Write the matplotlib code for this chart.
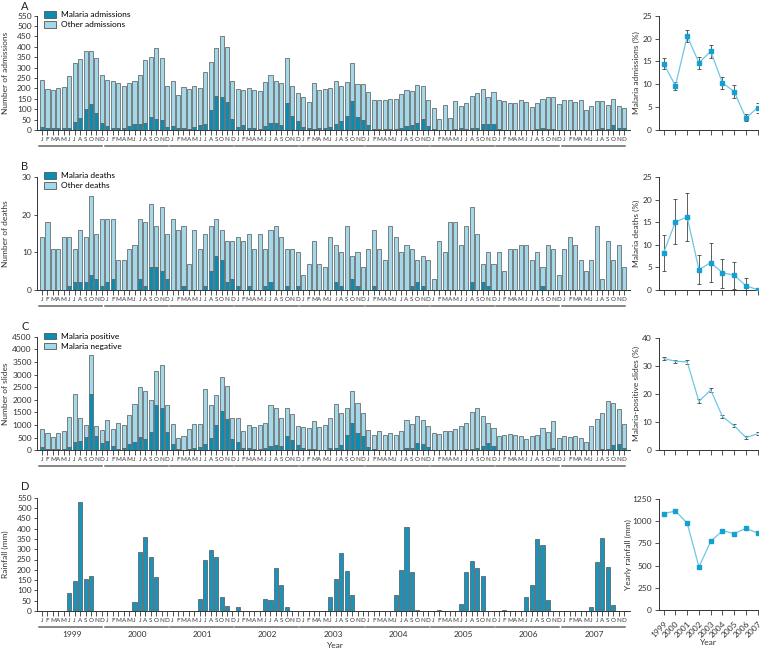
import numpy as np
import matplotlib
matplotlib.use("Agg")
import matplotlib.pyplot as plt
from matplotlib.patches import Patch
from matplotlib.transforms import blended_transform_factory

plt.rcParams['font.family'] = ['Lato', 'DejaVu Sans']

# ---- data -------------------------------------------------------------
months = list("JFMAMJJASOND")
years = ["1999", "2000", "2001", "2002", "2003", "2004", "2005", "2006", "2007"]

# A: admissions per month (total and malaria)
adm_total = [
    240, 195, 192, 200, 207, 258, 320, 340, 380, 380, 347, 265,
    240, 235, 225, 213, 225, 237, 266, 335, 352, 395, 345, 210,
    237, 168, 207, 197, 213, 202, 278, 328, 395, 453, 400, 237,
    195, 192, 200, 192, 187, 230, 265, 235, 225, 347, 212, 180,
    157, 135, 225, 193, 197, 200, 237, 210, 230, 322, 221, 221,
    182, 145, 145, 145, 148, 148, 174, 193, 189, 216, 210, 142,
    105, 52, 121, 56, 139, 116, 129, 163, 177, 195, 158, 182,
    144, 139, 129, 129, 142, 134, 110, 129, 150, 158, 158, 124,
    145, 145, 134, 145, 97, 116, 140, 140, 119, 150, 114, 108,
]
adm_malaria = [
    15, 8, 8, 8, 10, 12, 38, 58, 100, 125, 80, 33,
    18, 12, 8, 12, 18, 27, 30, 33, 62, 52, 47, 15,
    18, 8, 8, 5, 13, 22, 28, 95, 163, 157, 137, 52,
    15, 22, 12, 10, 5, 18, 33, 33, 22, 130, 68, 42,
    15, 8, 5, 12, 8, 15, 27, 43, 68, 140, 61, 48,
    25, 3, 3, 3, 3, 3, 8, 20, 25, 35, 55, 20,
    5, 2, 2, 2, 5, 8, 5, 8, 10, 30, 28, 30,
    3, 2, 2, 2, 2, 2, 2, 5, 10, 5, 3, 2,
    2, 2, 2, 2, 2, 2, 3, 12, 3, 22, 10, 8,
]

# B: deaths per month
death_total = [
    14, 18, 11, 11, 14, 14, 11, 16, 14, 25, 15, 19,
    19, 19, 8, 8, 11, 12, 19, 18, 23, 17, 22, 15,
    19, 16, 17, 7, 16, 11, 15, 17, 19, 16, 13, 13,
    14, 13, 15, 11, 15, 11, 16, 17, 14, 11, 11, 10,
    4, 7, 13, 7, 6, 14, 12, 10, 17, 9, 10, 6,
    11, 16, 11, 8, 17, 14, 10, 12, 11, 8, 9, 8,
    3, 13, 10, 18, 18, 12, 17, 22, 15, 7, 10, 7,
    10, 5, 11, 11, 12, 12, 8, 10, 6, 12, 11, 4,
    11, 14, 12, 8, 5, 8, 17, 3, 13, 8, 12, 6,
]
death_malaria = [
    0, 0, 0, 0, 0, 1, 2, 2, 2, 4, 3, 1,
    2, 3, 0, 0, 0, 0, 3, 1, 6, 6, 5, 3,
    0, 0, 1, 0, 0, 0, 1, 5, 9, 8, 2, 3,
    1, 0, 1, 0, 0, 1, 2, 0, 0, 1, 0, 1,
    0, 0, 0, 0, 0, 0, 2, 1, 0, 3, 1, 0,
    0, 1, 0, 0, 0, 0, 0, 0, 1, 2, 1, 0,
    0, 0, 0, 0, 0, 0, 0, 2, 0, 2, 1, 0,
    0, 0, 0, 0, 0, 0, 0, 0, 1, 0, 0, 0,
    0, 0, 0, 0, 0, 0, 0, 0, 0, 0, 0, 0,
]

# C: slides per month
slide_total = [
    835, 700, 510, 690, 760, 1300, 2220, 1280, 1000, 3780, 950, 800,
    1200, 850, 1080, 1020, 1400, 1830, 2500, 2330, 1990, 3150, 3360, 1780,
    1050, 500, 560, 830, 1040, 1050, 2420, 1780, 2180, 2920, 2530, 1280,
    1280, 760, 990, 930, 1000, 1080, 1780, 1660, 1280, 1680, 1430, 950,
    920, 900, 1160, 935, 990, 1270, 1820, 1490, 1660, 2350, 1890, 1465,
    790, 610, 750, 610, 670, 610, 750, 1200, 1030, 1350, 1200, 950,
    670, 660, 750, 750, 845, 950, 1080, 1500, 1660, 1350, 1070, 880,
    570, 600, 630, 620, 570, 440, 550, 620, 870, 730, 1175, 475,
    570, 530, 550, 490, 320, 950, 1230, 1470, 1950, 1860, 1640, 1030,
]
slide_positive = [
    150, 70, 50, 40, 50, 120, 330, 380, 530, 2220, 560, 300,
    380, 170, 50, 80, 230, 340, 520, 450, 720, 1780, 1680, 720,
    250, 40, 30, 50, 90, 130, 230, 490, 1010, 1560, 1240, 450,
    330, 80, 90, 50, 60, 80, 160, 210, 160, 570, 400, 210,
    100, 40, 40, 30, 30, 100, 80, 210, 610, 1070, 670, 570,
    130, 50, 30, 20, 20, 20, 30, 80, 80, 280, 260, 130,
    30, 20, 20, 20, 20, 30, 40, 60, 100, 180, 290, 180,
    30, 20, 20, 15, 15, 10, 15, 20, 30, 40, 80, 20,
    20, 15, 15, 10, 10, 20, 30, 40, 60, 210, 240, 90,
]

# D: monthly rainfall (mm)
rainfall = [
    0, 0, 0, 0, 0, 85, 145, 530, 155, 170, 0, 0,
    0, 0, 0, 0, 0, 42, 288, 357, 263, 165, 0, 0,
    0, 0, 0, 0, 0, 57, 247, 295, 262, 67, 22, 0,
    17, 0, 0, 0, 0, 60, 52, 208, 128, 17, 0, 0,
    0, 0, 0, 0, 0, 70, 154, 280, 196, 76, 0, 0,
    0, 0, 0, 0, 0, 79, 199, 406, 191, 5, 0, 0,
    0, 5, 0, 0, 0, 34, 189, 241, 207, 168, 0, 0,
    0, 5, 0, 0, 0, 66, 128, 348, 322, 52, 0, 0,
    0, 0, 0, 0, 0, 20, 236, 354, 215, 28, 0, 0,
]

# yearly summaries (right-hand panels)
adm_pct = [14.5, 9.7, 20.5, 14.7, 17.2, 10.3, 8.4, 2.6, 4.9]
adm_lo = [13.3, 8.7, 19.2, 13.3, 15.8, 9.0, 7.1, 1.9, 3.8]
adm_hi = [15.7, 10.6, 21.8, 16.0, 18.6, 11.5, 9.8, 3.4, 6.0]
death_pct = [8.3, 15.1, 16.2, 4.5, 6.1, 3.8, 3.3, 0.9, 0.1]
death_lo = [4.2, 10.1, 10.9, 1.3, 1.7, 0.5, 0.3, 0.0, 0.0]
death_hi = [12.3, 20.2, 21.6, 7.7, 10.4, 6.9, 6.2, 2.7, 0.2]
slide_pct = [32.6, 31.6, 31.4, 17.3, 21.4, 11.9, 8.6, 4.4, 5.8]
slide_lo = [32.0, 31.1, 30.7, 16.7, 20.6, 11.3, 8.1, 3.9, 5.2]
slide_hi = [33.2, 32.1, 32.1, 18.0, 22.2, 12.5, 9.1, 4.9, 6.4]
rain_year = [1085, 1115, 978, 485, 772, 893, 860, 920, 866]

# ---- style ------------------------------------------------------------
DARK = "#0a8db5"
LIGHT = "#a3d8e8"
RAIN = "#1893bb"
EDGE = "#555555"
LINE = "#6cc8e4"
MARK = "#16a0d2"
TXT = "#333333"

W, H = 762, 649
fig = plt.figure(figsize=(W / 100, H / 100), dpi=100)

LX0, LX1 = 36.6, 629.5
RX0, RX1 = 659.0, 758.3


def add_px_axes(x0, y0, x1, y1):
    return fig.add_axes([x0 / W, 1 - y1 / H, (x1 - x0) / W, (y1 - y0) / H])


def style(ax):
    for s in ("top", "right"):
        ax.spines[s].set_visible(False)
    for s in ("left", "bottom"):
        ax.spines[s].set_color(TXT)
        ax.spines[s].set_linewidth(0.7)
    ax.tick_params(colors=TXT, labelsize=6, width=0.6)


def monthly_panel(top, bottom, ymax, step, ylabel, total, malaria=None,
                  legend=None, leg_y=1.04, show_years=False):
    ax = add_px_axes(LX0, top, LX1, bottom)
    style(ax)
    x = np.arange(len(months) * len(years))
    if malaria is None:
        ax.bar(x, total, width=0.75, color=RAIN, edgecolor=EDGE, linewidth=0.5)
    else:
        mal = np.array(malaria)
        other = np.array(total) - mal
        ax.bar(x, mal, width=0.75, color=DARK, edgecolor=EDGE, linewidth=0.5)
        ax.bar(x, other, bottom=mal, width=0.75, color=LIGHT, edgecolor=EDGE, linewidth=0.5)
    ax.set_xlim(-1, 108)
    ax.set_ylim(0, ymax)
    ax.set_yticks(np.arange(0, ymax + 1, step))
    ax.tick_params(axis="y", length=2.5, pad=1)
    ax.set_xticks(x)
    ax.set_xticklabels(months * len(years), fontsize=4.5)
    ax.tick_params(axis="x", length=3.5, pad=1.5)
    ax.set_ylabel(ylabel, fontsize=6, color=TXT)
    ax.yaxis.set_label_coords((9 - LX0) / (LX1 - LX0), 0.5)

    h = bottom - top
    tr = blended_transform_factory(ax.transData, ax.transAxes)
    for k in range(len(years)):
        ax.plot([12 * k - 0.5, 12 * k + 11.1], [-15.5 / h] * 2, color="#666666",
                lw=1.1, transform=tr, clip_on=False)
        if show_years:
            ax.text(12 * k + 5.5, -23.5 / h, years[k], transform=tr, ha="center",
                    va="center", fontsize=6, color=TXT)
    if show_years:
        ax.text(54, -34.5 / h, "Year", transform=tr, ha="center", va="center",
                fontsize=6, color=TXT)
    if legend:
        handles = [Patch(facecolor=DARK, edgecolor=EDGE, linewidth=0.6, label=legend[0]),
                   Patch(facecolor=LIGHT, edgecolor=EDGE, linewidth=0.6, label=legend[1])]
        ax.legend(handles=handles, loc="upper left", bbox_to_anchor=(0.012, leg_y),
                  frameon=False, fontsize=6, handlelength=1.5, handleheight=0.8,
                  handletextpad=0.6, labelspacing=0.35, borderaxespad=0, borderpad=0)
    return ax


def yearly_panel(top, bottom, vals, ymax, step, ylabel, lo=None, hi=None,
                 marker="s", xlabels=False, label_x=639.5):
    ax = add_px_axes(RX0, top, RX1, bottom)
    style(ax)
    xs = np.arange(len(years))
    v = np.array(vals, dtype=float)
    if lo is not None:
        ax.errorbar(xs, v, yerr=[v - np.array(lo), np.array(hi) - v], fmt="none",
                    ecolor="#444444", elinewidth=0.6, capsize=1.5, capthick=0.6, zorder=2)
    ax.plot(xs, v, color=LINE, lw=0.9, marker=marker, ms=3.3, mfc=MARK, mec=MARK, zorder=3)
    ax.set_xlim(-0.4, 8.05)
    ax.set_ylim(0, ymax)
    ax.set_yticks(np.arange(0, ymax + 1, step))
    ax.set_xticks(xs)
    ax.tick_params(axis="x", length=3.5)
    ax.tick_params(axis="y", length=3, pad=2)
    if xlabels:
        ax.set_xticklabels(years, rotation=45, ha="right", va="top",
                           rotation_mode="anchor", fontsize=6)
        ax.text(0.5, -(642.5 - bottom) / (bottom - top), "Year", transform=ax.transAxes,
                ha="center", va="center", fontsize=6, color=TXT)
    else:
        ax.set_xticklabels([])
    ax.set_ylabel(ylabel, fontsize=6, color=TXT)
    ax.yaxis.set_label_coords((label_x - RX0) / (RX1 - RX0), 0.5)
    return ax


monthly_panel(15.7, 130, 550, 50, "Number of admissions", adm_total, adm_malaria,
              legend=("Malaria admissions", "Other admissions"), leg_y=1.04)
monthly_panel(177.3, 290, 30, 10, "Number of deaths", death_total, death_malaria,
              legend=("Malaria deaths", "Other deaths"), leg_y=1.045)
monthly_panel(336.7, 450.3, 4500, 500, "Number of slides", slide_total, slide_positive,
              legend=("Malaria positive", "Malaria negative"), leg_y=1.035)
monthly_panel(497.7, 611, 550, 50, "Rainfall (mm)", rainfall, show_years=True)

yearly_panel(15.7, 130, adm_pct, 25, 5, "Malaria admissions (%)", adm_lo, adm_hi)
yearly_panel(177.3, 290, death_pct, 25, 5, "Malaria deaths (%)", death_lo, death_hi)
yearly_panel(337.7, 450, slide_pct, 40, 10, "Malaria-positive slides (%)", slide_lo, slide_hi,
             marker=None)
yearly_panel(499, 610, rain_year, 1250, 250, "Yearly rainfall (mm)", xlabels=True,
             label_x=632)

for letter, ytop in (("A", 1.5), ("B", 160.5), ("C", 321.5), ("D", 481.5)):
    fig.text(21 / W, 1 - ytop / H, letter, fontsize=8, color="#222222", ha="left", va="top")

fig.savefig("out.png", dpi=100)
